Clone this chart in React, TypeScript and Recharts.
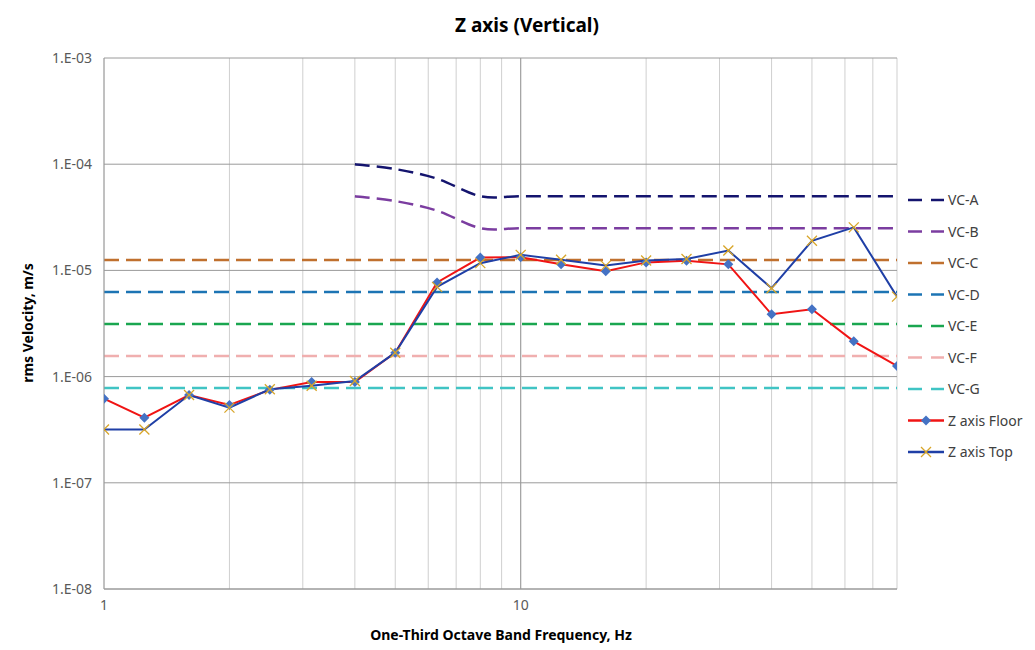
import React from 'react';
import { LineChart, Line, XAxis, YAxis, CartesianGrid, ReferenceLine } from 'recharts';

// one-third octave band centre frequencies, Hz
const bandFreqs = [1, 1.25, 1.6, 2, 2.5, 3.15, 4, 5, 6.3, 8, 10, 12.5, 16, 20, 25, 31.5, 40, 50, 63, 80];

// measured rms velocity, m/s
const floorValues = [6.2e-7, 4.1e-7, 6.7e-7, 5.4e-7, 7.5e-7, 8.9e-7, 8.9e-7, 1.68e-6, 7.7e-6, 1.32e-5,
  1.33e-5, 1.14e-5, 9.8e-6, 1.19e-5, 1.23e-5, 1.14e-5, 3.86e-6, 4.31e-6, 2.15e-6, 1.26e-6];
const topValues = [3.18e-7, 3.18e-7, 6.7e-7, 5.1e-7, 7.6e-7, 8.2e-7, 9.1e-7, 1.68e-6, 7.0e-6, 1.17e-5,
  1.4e-5, 1.26e-5, 1.11e-5, 1.24e-5, 1.28e-5, 1.54e-5, 6.8e-6, 1.9e-5, 2.54e-5, 5.66e-6];

// VC-A / VC-B start at 4 Hz
const vcStartFreqs = [4, 5, 6.3, 8, 10, 12.5, 16, 20, 25, 31.5, 40, 50, 63, 80];
const vcAValues = [1e-4, 9e-5, 7.3e-5, 5e-5, 5e-5, 5e-5, 5e-5, 5e-5, 5e-5, 5e-5, 5e-5, 5e-5, 5e-5, 5e-5];
const vcBValues = [5e-5, 4.5e-5, 3.65e-5, 2.5e-5, 2.5e-5, 2.5e-5, 2.5e-5, 2.5e-5, 2.5e-5, 2.5e-5, 2.5e-5, 2.5e-5, 2.5e-5, 2.5e-5];

// flat criteria over the whole band
const flatNames = ['VC-C', 'VC-D', 'VC-E', 'VC-F', 'VC-G'];
const flatLevels = [1.25e-5, 6.25e-6, 3.12e-6, 1.56e-6, 7.8e-7];
const flatColors = ['#C0702E', '#1C74B4', '#1AA650', '#F0AFAF', '#40C4C4'];

const xGridTicks = [1, 2, 3, 4, 5, 6, 7, 8, 9, 10, 20, 30, 40, 50, 60, 70, 80];
const xLabelTicks = [1, 10];
const yTicks = [1e-8, 1e-7, 1e-6, 1e-5, 1e-4, 1e-3];

const toPoints = (xs: number[], ys: number[]) => xs.map((f, i) => ({ f, v: ys[i] }));

const vcAData = toPoints(vcStartFreqs, vcAValues);
const vcBData = toPoints(vcStartFreqs, vcBValues);
const floorData = toPoints(bandFreqs, floorValues);
const topData = toPoints(bandFreqs, topValues);

const fmtY = (v: number) => {
  const e = Math.round(-Math.log10(v));
  return `1.E-${String(e).padStart(2, '0')}`;
};

// Excel-style smoothed line (Catmull-Rom through the points)
function SmoothCurve(this: any, context: any) {
  this._context = context;
}
SmoothCurve.prototype = {
  areaStart() {},
  areaEnd() {},
  lineStart() {
    this._pts = [];
  },
  point(x: number, y: number) {
    this._pts.push([+x, +y]);
  },
  lineEnd() {
    const p = this._pts;
    const c = this._context;
    if (!p.length) return;
    c.moveTo(p[0][0], p[0][1]);
    for (let i = 0; i < p.length - 1; i++) {
      const p0 = p[Math.max(i - 1, 0)];
      const p1 = p[i];
      const p2 = p[i + 1];
      const p3 = p[Math.min(i + 2, p.length - 1)];
      c.bezierCurveTo(
        p1[0] + (p2[0] - p0[0]) / 6, p1[1] + (p2[1] - p0[1]) / 6,
        p2[0] - (p3[0] - p1[0]) / 6, p2[1] - (p3[1] - p1[1]) / 6,
        p2[0], p2[1]
      );
    }
  },
};
const smoothCurve: any = (context: any) => new (SmoothCurve as any)(context);

const FONT = '"Noto Sans", sans-serif';
const DASH = '15 7';

const Diamond = (props: any) => {
  const { cx, cy } = props;
  if (cx == null || cy == null) return null;
  return <path key={`d${cx}`} d={`M${cx},${cy - 5}L${cx + 5},${cy}L${cx},${cy + 5}L${cx - 5},${cy}Z`} fill="#4472C4" />;
};

const Cross = (props: any) => {
  const { cx, cy } = props;
  if (cx == null || cy == null) return null;
  return (
    <g key={`x${cx}`} stroke="#D8A528" strokeWidth={1.3}>
      <line x1={cx - 5} y1={cy - 5} x2={cx + 5} y2={cy + 5} />
      <line x1={cx - 5} y1={cy + 5} x2={cx + 5} y2={cy - 5} />
    </g>
  );
};

const legendItems = [
  { name: 'VC-A', color: '#14146E', kind: 'dash' },
  { name: 'VC-B', color: '#7B3DA0', kind: 'dash' },
  ...flatNames.map((n, i) => ({ name: n, color: flatColors[i], kind: 'dash' })),
  { name: 'Z axis Floor', color: '#F01414', kind: 'floor' },
  { name: 'Z axis Top', color: '#1F3FA6', kind: 'top' },
];

export default function App() {
  return (
    <div style={{ position: 'absolute', left: 0, top: 0, width: 1035, height: 650, background: '#fff', fontFamily: FONT }}>
      <LineChart width={1035} height={650} margin={{ top: 58, right: 138, left: 44, bottom: 31 }}>
        <CartesianGrid horizontal={false} stroke="#CFCFCF" strokeWidth={1} />
        <CartesianGrid vertical={false} stroke="#9A9A9A" strokeWidth={1} />
        <XAxis
          dataKey="f"
          type="number"
          scale="log"
          domain={[1, 80]}
          allowDataOverflow
          ticks={xGridTicks}
          interval={0}
          tickFormatter={(v: number) => (xLabelTicks.includes(v) ? String(v) : '')}
          tickLine={false}
          tickMargin={5}
          axisLine={{ stroke: '#9A9A9A' }}
          tick={{ fill: '#595959', fontSize: 14, fontFamily: FONT }}
          height={30}
        />
        <YAxis
          type="number"
          scale="log"
          domain={[1e-8, 1e-3]}
          allowDataOverflow
          ticks={yTicks}
          interval={0}
          tickFormatter={fmtY}
          tickLine={false}
          tickMargin={6}
          axisLine={{ stroke: '#9A9A9A' }}
          tick={{ fill: '#595959', fontSize: 14, fontFamily: FONT }}
          width={60}
        />
        <ReferenceLine x={10} stroke="#9A9A9A" strokeWidth={1} />
        <Line data={vcAData} dataKey="v" name="VC-A" type={smoothCurve} stroke="#14146E" strokeWidth={2.5} strokeDasharray={DASH} dot={false} isAnimationActive={false} />
        <Line data={vcBData} dataKey="v" name="VC-B" type={smoothCurve} stroke="#7B3DA0" strokeWidth={2.5} strokeDasharray={DASH} dot={false} isAnimationActive={false} />
        {flatNames.map((n, i) => (
          <Line
            key={n}
            data={bandFreqs.map((f) => ({ f, v: flatLevels[i] }))}
            dataKey="v"
            name={n}
            stroke={flatColors[i]}
            strokeWidth={2.5}
            strokeDasharray={DASH}
            dot={false}
            isAnimationActive={false}
          />
        ))}
        <Line data={floorData} dataKey="v" name="Z axis Floor" type="linear" stroke="#F01414" strokeWidth={2} dot={<Diamond />} isAnimationActive={false} />
        <Line data={topData} dataKey="v" name="Z axis Top" type="linear" stroke="#1F3FA6" strokeWidth={2} dot={<Cross />} isAnimationActive={false} />
      </LineChart>

      <svg width={1035} height={650} style={{ position: 'absolute', left: 0, top: 0, pointerEvents: 'none' }}>
        <text x={527} y={32} textAnchor="middle" fontSize={19} fontWeight="bold" fill="#000" fontFamily={FONT}>
          Z axis (Vertical)
        </text>
        <text x={501} y={640} textAnchor="middle" fontSize={14} fontWeight="bold" fill="#000" fontFamily={FONT}>
          One-Third Octave Band Frequency, Hz
        </text>
        <text x={33} y={323} textAnchor="middle" fontSize={14} fontWeight="bold" fill="#000" fontFamily={FONT} transform="rotate(-90 33 323)">
          rms Velocity, m/s
        </text>
        {legendItems.map((it, i) => {
          const y = 200 + i * 31.5;
          return (
            <g key={it.name}>
              {it.kind === 'dash' ? (
                <g stroke={it.color} strokeWidth={2.5}>
                  <line x1={908} y1={y} x2={922} y2={y} />
                  <line x1={931} y1={y} x2={944} y2={y} />
                </g>
              ) : (
                <line x1={908} y1={y} x2={944} y2={y} stroke={it.color} strokeWidth={2.5} />
              )}
              {it.kind === 'floor' && <Diamond cx={926} cy={y} />}
              {it.kind === 'top' && <Cross cx={926} cy={y} />}
              <text x={948} y={y + 5} fontSize={14} fill="#404040" fontFamily={FONT}>
                {it.name}
              </text>
            </g>
          );
        })}
      </svg>
    </div>
  );
}
